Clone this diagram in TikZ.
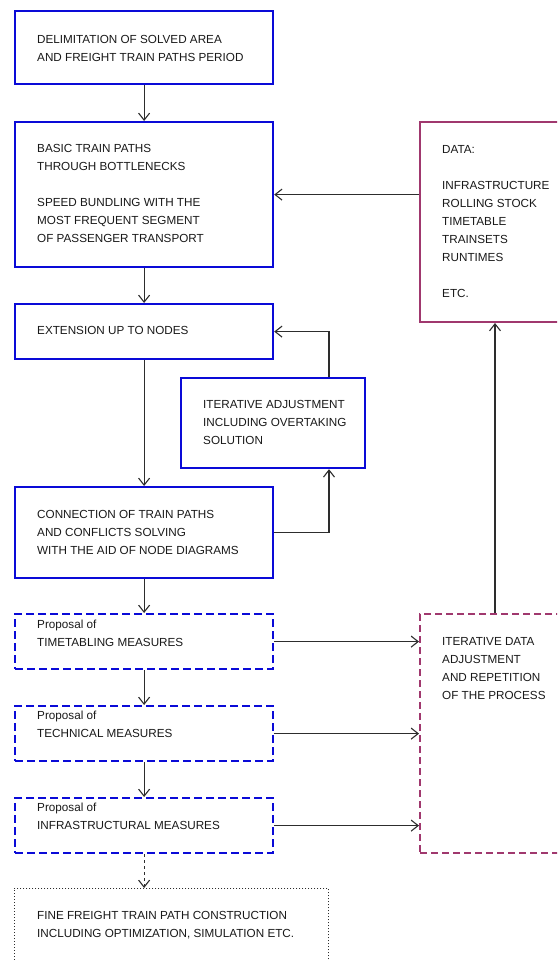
\documentclass[tikz,border=0pt]{standalone}
\usepackage{fontspec}
\setmainfont{Liberation Sans}
\usetikzlibrary{arrows.meta,calc}
\definecolor{boxblue}{RGB}{10,10,215}
\definecolor{boxmag}{RGB}{160,56,110}
\definecolor{lin}{RGB}{45,45,45}
\definecolor{txtc}{RGB}{25,25,25}
\begin{document}
\begin{tikzpicture}[x=1pt,y=-1pt,
  bluebox/.style={draw=boxblue, line width=2.2pt, anchor=north west, inner sep=0pt},
  blueboxd/.style={bluebox, dash pattern=on 8pt off 4pt},
  magbox/.style={draw=boxmag, line width=2pt, anchor=north west, inner sep=0pt},
  magboxd/.style={magbox, dash pattern=on 7pt off 4pt},
  dotbox/.style={draw=lin, line width=0.8pt, dash pattern=on 1pt off 2pt, anchor=north west, inner sep=0pt},
  txt/.style={anchor=north west, inner sep=0pt, align=left, text=txtc, font=\fontsize{11.7}{18}\selectfont},
  arr/.style={draw=lin, line width=1.1pt, -{Straight Barb[length=7pt,width=11pt]}},
  arrd/.style={arr, dash pattern=on 3pt off 3pt}
]
\clip (0,0) rectangle (557,960);
% boxes
\node[bluebox, minimum width=258pt, minimum height=73pt] (b1) at (14,10) {};
\node[bluebox, minimum width=258pt, minimum height=145pt] (b2) at (14,121) {};
\node[bluebox, minimum width=258pt, minimum height=55pt] (b3) at (14,303) {};
\node[bluebox, minimum width=184pt, minimum height=90pt] (b4) at (180,377) {};
\node[bluebox, minimum width=258pt, minimum height=91pt] (b5) at (14,486) {};
\node[magbox, minimum width=161pt, minimum height=200pt] (data) at (419,121) {};
\node[blueboxd, minimum width=258pt, minimum height=55pt] (p1) at (14,613) {};
\node[blueboxd, minimum width=258pt, minimum height=55pt] (p2) at (14,705) {};
\node[blueboxd, minimum width=258pt, minimum height=55pt] (p3) at (14,797) {};
\node[magboxd, minimum width=161pt, minimum height=239pt] (iter) at (419,613) {};
\node[dotbox, minimum width=314pt, minimum height=102pt] (fin) at (14,888) {};
% texts
\node[txt] (t1) at (37,35.6) {DELIMITATION OF SOLVED AREA\\AND FREIGHT TRAIN PATHS PERIOD};
\node[txt] (t2) at (37,144.6) {BASIC TRAIN PATHS\\THROUGH BOTTLENECKS\\[18pt]SPEED BUNDLING WITH THE\\MOST FREQUENT SEGMENT\\OF PASSENGER TRANSPORT};
\node[txt] (t3) at (37,326.6) {EXTENSION UP TO NODES};
\node[txt] (t4) at (203,400.6) {ITERATIVE ADJUSTMENT\\INCLUDING OVERTAKING\\SOLUTION};
\node[txt] (t5) at (37,510.6) {CONNECTION OF TRAIN PATHS\\AND CONFLICTS SOLVING\\WITH THE AID OF NODE DIAGRAMS};
\node[txt] (tdata) at (442,145.6) {DATA:\\[18pt]INFRASTRUCTURE\\ROLLING STOCK\\TIMETABLE\\TRAINSETS\\RUNTIMES\\[18pt]ETC.};
\node[txt] (tp1) at (37,619.6) {Proposal of\\TIMETABLING MEASURES};
\node[txt] (tp2) at (37,710.6) {Proposal of\\TECHNICAL MEASURES};
\node[txt] (tp3) at (37,802.6) {Proposal of\\INFRASTRUCTURAL MEASURES};
\node[txt] (titer) at (442,637.6) {ITERATIVE DATA\\ADJUSTMENT\\AND REPETITION\\OF THE PROCESS};
\node[txt] (tfin) at (37,911.6) {FINE FREIGHT TRAIN PATH CONSTRUCTION\\INCLUDING OPTIMIZATION, SIMULATION ETC.};
% helper coordinates
\coordinate (xloop) at (329,0);
\coordinate (xup) at (495,0);
% connectors
\draw[arr] (b1.south) -- (b2.north);
\draw[arr] (b2.south) -- (b3.north);
\draw[arr] (b3.south) -- (b5.north);
\draw[arr] (b5.south) -- (p1.north);
\draw[arr] (p1.south) -- (p2.north);
\draw[arr] (p2.south) -- (p3.north);
\draw[arrd] (p3.south) -- (p3.south |- fin.north);
\draw[arr] (data.west |- b2.east) -- (b2.east);
\draw[arr] (b5.east) -| (b4.south -| xloop);
\draw[arr] (b4.north -| xloop) |- (b3.east);
\draw[arr] (iter.north -| xup) -- (data.south -| xup);
\draw[arr] (p1.east) -- (p1.east -| iter.west);
\draw[arr] (p2.east) -- (p2.east -| iter.west);
\draw[arr] (p3.east) -- (p3.east -| iter.west);
\end{tikzpicture}
\end{document}
